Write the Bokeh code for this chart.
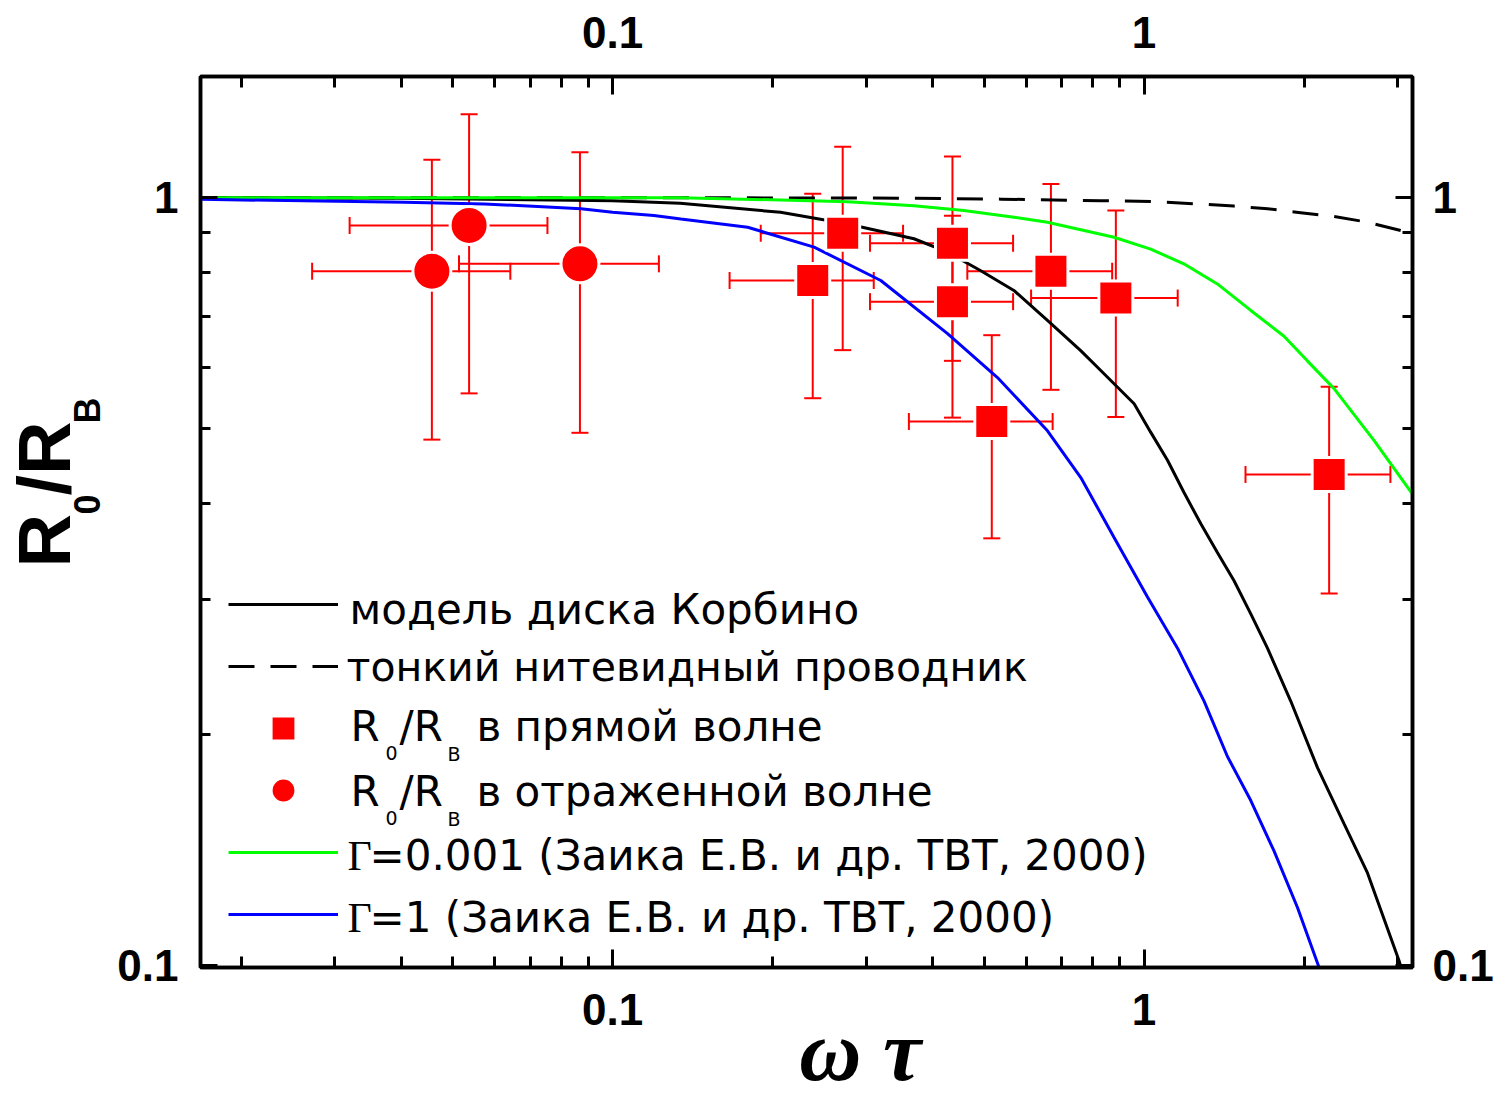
import numpy as np
from bokeh.plotting import figure
from bokeh.layouts import row, column
from bokeh.models import (Range1d, LogAxis, FixedTicker, Whisker, TeeHead,
                          ColumnDataSource, Label, Legend, LegendItem)
from bokeh.core.properties import value
from bokeh.embed import file_html
from bokeh.resources import INLINE

# ---------------- data ----------------
# R0/RB in the direct wave (squares)
sq_x = [0.271, 0.238, 0.436, 0.436, 0.517, 0.668, 0.885, 2.23]
sq_y = [0.899, 0.780, 0.872, 0.732, 0.511, 0.802, 0.740, 0.436]
sq_xerr = [0.081, 0.072, 0.131, 0.131, 0.156, 0.203, 0.272, 0.678]
sq_yerr = [0.266, 0.232, 0.259, 0.215, 0.151, 0.240, 0.222, 0.131]

# R0/RB in the reflected wave (circles)
ci_x = [0.0457, 0.0537, 0.0868]
ci_y = [0.802, 0.920, 0.820]
ci_xerr = [0.0185, 0.0217, 0.0354]
ci_yerr = [0.318, 0.364, 0.326]

# Corbino disk model (black solid)
corbino_x = [0.0168, 0.04, 0.1, 0.134, 0.207, 0.277, 0.369, 0.427, 0.493, 0.569,
             0.658, 0.760, 0.829, 0.958, 1.029, 1.107, 1.189, 1.279, 1.374, 1.477,
             1.588, 1.707, 1.888, 2.12, 2.378, 2.633, 3.018, 3.05]
corbino_y = [1.0, 0.998, 0.991, 0.983, 0.957, 0.924, 0.884, 0.849, 0.803, 0.757,
             0.692, 0.632, 0.5955, 0.539, 0.495, 0.455, 0.413, 0.376, 0.345, 0.317,
             0.287, 0.259, 0.221, 0.181, 0.153, 0.132, 0.1015, 0.099]

# thin filament conductor (black dashed)
filament_x = [0.0168, 0.1, 0.349, 0.538, 0.829, 1.043, 1.279, 1.475, 1.709, 1.971,
              2.275, 2.635, 3.041, 3.2]
filament_y = [1.0, 1.0, 0.9985, 0.9955, 0.991, 0.988, 0.981, 0.975, 0.967, 0.956,
              0.945, 0.929, 0.906, 0.898]

# Gamma = 0.001 (green)
green_x = [0.0168, 0.134, 0.277, 0.369, 0.458, 0.569, 0.658, 0.878, 1.029, 1.188,
           1.374, 1.588, 1.834, 2.029, 2.278, 2.708, 3.2]
green_y = [1.0, 1.0, 0.988, 0.976, 0.962, 0.943, 0.929, 0.888, 0.857, 0.820,
           0.772, 0.713, 0.660, 0.613, 0.564, 0.483, 0.411]

# Gamma = 1 (blue)
blue_x = [0.0168, 0.0405, 0.0573, 0.0723, 0.0872, 0.1, 0.1196, 0.1344, 0.1795,
          0.2394, 0.3196, 0.4268, 0.5299, 0.6581, 0.7603, 0.8782, 1.015, 1.156,
          1.297, 1.436, 1.588, 1.756, 1.944, 2.134]
blue_y = [0.995, 0.986, 0.981, 0.974, 0.967, 0.957, 0.948, 0.938, 0.915, 0.862,
          0.780, 0.665, 0.583, 0.497, 0.432, 0.361, 0.302, 0.259, 0.221, 0.187,
          0.164, 0.141, 0.119, 0.0995]

x_major = [0.1, 1]
x_minor = [0.02, 0.03, 0.04, 0.05, 0.06, 0.07, 0.08, 0.09,
           0.2, 0.3, 0.4, 0.5, 0.6, 0.7, 0.8, 0.9, 2, 3]
y_major = [0.1, 1]
y_minor = [0.2, 0.3, 0.4, 0.5, 0.6, 0.7, 0.8, 0.9]
tick_text = {0.1: "0.1", 1: "1"}

legend_texts = ["модель диска Корбино", "тонкий нитевидный проводник",
                "в прямой волне", "в отраженной волне",
                "=0.001 (Заика Е.В. и др. ТВТ, 2000)", "=1 (Заика Е.В. и др. ТВТ, 2000)"]
x_title = "ω τ"

# ---------------- layout geometry (page pixels) ----------------
W, H = 1496, 1101
YLAB_W = 114          # strip left of the main figure holding the y title
FL, FT, FR, FB = 200, 76, 1412, 967   # frame edges on the page

p = figure(width=W - YLAB_W, height=H, x_axis_type="log", y_axis_type="log",
           x_range=Range1d(0.01677, 3.2), y_range=Range1d(0.0994, 1.438),
           output_backend="svg", toolbar_location=None,
           min_border_left=FL - YLAB_W, min_border_right=W - FR,
           min_border_top=FT, min_border_bottom=H - FB)
p.grid.visible = False
p.background_fill_color = "white"
p.border_fill_color = "white"
p.outline_line_color = "black"
p.outline_line_width = 3.5

p.add_layout(LogAxis(), "above")
p.add_layout(LogAxis(), "right")


def style_axis(ax, horiz, standoff):
    ax.ticker = FixedTicker(ticks=x_major if horiz else y_major,
                            minor_ticks=x_minor if horiz else y_minor)
    ax.major_label_overrides = tick_text
    ax.axis_line_width = 3.5
    ax.axis_line_color = "black"
    ax.major_tick_in = 18 if horiz else 17
    ax.major_tick_out = 0
    ax.minor_tick_in = 11 if horiz else 10
    ax.minor_tick_out = 0
    ax.major_tick_line_width = 3
    ax.minor_tick_line_width = 3
    ax.major_label_text_font = "Liberation Sans"
    ax.major_label_text_font_style = "bold"
    ax.major_label_text_font_size = "44px"
    ax.major_label_text_color = "black"
    ax.major_label_standoff = standoff


style_axis(p.below[0], True, 26)
style_axis(p.above[0], True, 29)
style_axis(p.left[0], False, 22)
style_axis(p.right[0], False, 20)

# x title as the bottom axis label; the no-break spaces move its centre from the
# middle of the frame to where the reference has it
xa = p.below[0]
xa.axis_label = "\u00a0" * 5 + x_title
xa.axis_label_text_font = "Liberation Serif"
xa.axis_label_text_font_style = "bold italic"
xa.axis_label_text_font_size = "86px"
xa.axis_label_text_color = "black"
xa.axis_label_standoff = -25

# ---------------- curves ----------------
r_corb = p.line(corbino_x, corbino_y, line_color="black", line_width=3)
r_fil = p.line(filament_x, filament_y, line_color="black", line_width=3,
               line_dash="26 16")
r_green = p.line(green_x, green_y, line_color="#00ff00", line_width=3)
r_blue = p.line(blue_x, blue_y, line_color="#0000ff", line_width=3)


# ---------------- error bars ----------------
def add_errors(xs, ys, xe, ye):
    xs, ys, xe, ye = map(np.asarray, (xs, ys, xe, ye))
    src = ColumnDataSource(dict(x=xs, y=ys, xl=xs - xe, xu=xs + xe,
                                yl=ys - ye, yu=ys + ye))
    for dim, base, lo, up in (("height", "x", "yl", "yu"), ("width", "y", "xl", "xu")):
        p.add_layout(Whisker(source=src, base=base, lower=lo, upper=up, dimension=dim,
                             line_color="red", line_width=2,
                             upper_head=TeeHead(size=17, line_color="red", line_width=2),
                             lower_head=TeeHead(size=17, line_color="red", line_width=2)))


add_errors(sq_x, sq_y, sq_xerr, sq_yerr)
add_errors(ci_x, ci_y, ci_xerr, ci_yerr)

r_sq = p.scatter(sq_x, sq_y, marker="square", size=34, fill_color="red",
                 line_color="white", line_width=3)
r_ci = p.scatter(ci_x, ci_y, marker="circle", size=38, fill_color="red",
                 line_color="white", line_width=3)

# ---------------- legend (symbols) ----------------
legend = Legend(items=[LegendItem(label=value(" "), renderers=[r]) for r in
                       (r_corb, r_fil, r_sq, r_ci, r_green, r_blue)],
                location=(28, 22), orientation="vertical",
                glyph_width=110, glyph_height=62, label_height=62,
                spacing=0, padding=0, margin=0, label_standoff=0,
                label_text_font_size="10px",
                border_line_color=None, background_fill_alpha=0)
p.add_layout(legend)

# half-height of the font box above the baseline, in em
MID = {"DejaVu Sans": 0.346, "Liberation Sans": 0.3465, "Liberation Serif": 0.3375}


def label(fig, ox, oy, x, base, text, size, font="DejaVu Sans", style="normal",
          rotated=False, align="left"):
    """x / base are page pixels (base = baseline position); (ox, oy) is the page
    position of the figure frame's bottom-left corner."""
    shift = MID[font] * size
    if rotated:          # reads bottom-to-top, baseline is a vertical line at x=base
        sx, sy, ang = base - shift, x, np.pi / 2
    else:
        sx, sy, ang = x, base - shift, 0
    fig.add_layout(Label(x=sx - ox, y=oy - sy, x_units="screen", y_units="screen",
                         text=text, text_font=font, text_font_style=style,
                         text_font_size=f"{size}px", text_color="black",
                         angle=ang, text_align=align, text_baseline="middle"))


# legend texts (inside the frame)
LS = 42
label(p, FL, FB, 349, 624, legend_texts[0], LS)
label(p, FL, FB, 346, 681, legend_texts[1], 41)
for base_y, t in ((741, legend_texts[2]), (806, legend_texts[3])):
    label(p, FL, FB, 350, base_y, "R", LS)
    label(p, FL, FB, 385, base_y + 18, "0", 19)
    label(p, FL, FB, 399, base_y, "/R", LS)
    label(p, FL, FB, 447, base_y + 19, "B", 19)
    label(p, FL, FB, 476, base_y, t, LS)
label(p, FL, FB, 347, 870, "Γ", 42, font="Liberation Serif")
label(p, FL, FB, 369, 870, legend_texts[4], LS)
label(p, FL, FB, 347, 932, "Γ", 42, font="Liberation Serif")
label(p, FL, FB, 369, 932, legend_texts[5], LS)

# y title strip (page x 0..YLAB_W); its frame spans the same rows as the main frame
ylab = figure(width=YLAB_W, height=H, x_axis_type=None, y_axis_type=None,
              x_range=Range1d(0, 1), y_range=Range1d(0, 1),
              output_backend="svg", toolbar_location=None,
              min_border_left=0, min_border_right=0,
              min_border_top=FT, min_border_bottom=H - FB)
ylab.grid.visible = False
ylab.outline_line_color = None
ylab.background_fill_color = "white"
ylab.border_fill_color = "white"

label(ylab, 0, FB, 567, 70, "R", 74, font="Liberation Sans", style="bold", rotated=True)
label(ylab, 0, FB, 514, 99, "0", 36, font="Liberation Sans", style="bold", rotated=True)
label(ylab, 0, FB, 495, 70, "/R", 74, font="Liberation Sans", style="bold", rotated=True)
label(ylab, 0, FB, 423, 99, "B", 36, font="Liberation Sans", style="bold", rotated=True)

layout = row(ylab, column(p), spacing=0)
open("out.html", "w").write(file_html(layout, INLINE))
